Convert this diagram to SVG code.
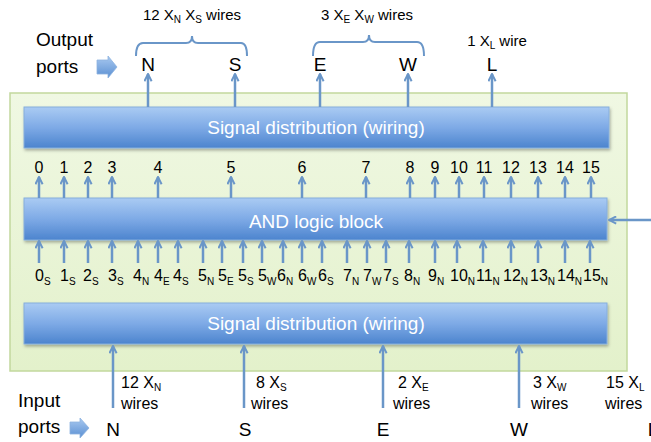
<svg xmlns="http://www.w3.org/2000/svg" width="651" height="442" viewBox="0 0 651 442">
<defs>
<linearGradient id="blueGrad" x1="0" y1="0" x2="0" y2="1">
<stop offset="0" stop-color="#AACBF3"/>
<stop offset="0.5" stop-color="#7EAAE6"/>
<stop offset="1" stop-color="#4C84CE"/>
</linearGradient>
<linearGradient id="greenGrad" x1="0" y1="0" x2="0" y2="1">
<stop offset="0" stop-color="#F0F8E3"/>
<stop offset="1" stop-color="#E3F1CB"/>
</linearGradient>
<linearGradient id="fatGrad" x1="0" y1="0" x2="0" y2="1">
<stop offset="0" stop-color="#A9C9F0"/>
<stop offset="1" stop-color="#5A8FD2"/>
</linearGradient>
<filter id="shadow" x="-5%" y="-20%" width="110%" height="150%">
<feDropShadow dx="1" dy="2" stdDeviation="1.5" flood-color="#000" flood-opacity="0.3"/>
</filter>
<marker id="ah" viewBox="0 0 10 10" refX="9" refY="5" markerWidth="9" markerHeight="9" markerUnits="userSpaceOnUse" orient="auto">
<path d="M1,1 L9,5 L1,9" fill="none" stroke="#6A96C8" stroke-width="2.2" stroke-linejoin="miter"/>
</marker>
</defs>
<style>
text{font-family:"Liberation Sans",Arial,sans-serif;fill:#000}
.blk{fill:url(#blueGrad);stroke:#86AEDC;stroke-width:1;filter:url(#shadow)}
.blkt{fill:#fff;text-anchor:middle}
.num{font-size:16px}
.lbl{font-size:16px}
.port{font-size:19px;text-anchor:middle}
.side{font-size:19px}
.sub{font-size:10px}
.w{stroke:#6A96C8;stroke-width:2.5;fill:none;marker-end:url(#ah)}
.brace{stroke:#6A96C8;stroke-width:2;fill:none}
.fat{fill:url(#fatGrad);stroke:#8DB2DF;stroke-width:0.8}
</style>

<g id="panel">
<rect x="10" y="93" width="617" height="278" fill="url(#greenGrad)" stroke="#C2D89D" stroke-width="1.5"/>
</g>

<g id="signal-top">
<rect class="blk" x="24" y="107" width="585" height="41"/>
<text class="blkt" x="316" y="134" font-size="19">Signal distribution (wiring)</text>
</g>

<g id="and-block">
<rect class="blk" x="24" y="198" width="583" height="42"/>
<text class="blkt" x="316" y="228" font-size="19">AND logic block</text>
</g>

<g id="signal-bottom">
<rect class="blk" x="24" y="303" width="583" height="41"/>
<text class="blkt" x="316" y="330" font-size="19">Signal distribution (wiring)</text>
</g>

<g id="connectors">
<line class="w" x1="148" y1="107" x2="148" y2="74"/>
<line class="w" x1="235" y1="107" x2="235" y2="74"/>
<line class="w" x1="320" y1="107" x2="320" y2="74"/>
<line class="w" x1="408" y1="107" x2="408" y2="74"/>
<line class="w" x1="492" y1="107" x2="492" y2="74"/>
<line class="w" x1="39" y1="198" x2="39" y2="177"/>
<line class="w" x1="64" y1="198" x2="64" y2="177"/>
<line class="w" x1="88" y1="198" x2="88" y2="177"/>
<line class="w" x1="112" y1="198" x2="112" y2="177"/>
<line class="w" x1="158" y1="198" x2="158" y2="177"/>
<line class="w" x1="231" y1="198" x2="231" y2="177"/>
<line class="w" x1="302" y1="198" x2="302" y2="177"/>
<line class="w" x1="366" y1="198" x2="366" y2="177"/>
<line class="w" x1="410" y1="198" x2="410" y2="177"/>
<line class="w" x1="435" y1="198" x2="435" y2="177"/>
<line class="w" x1="459" y1="198" x2="459" y2="177"/>
<line class="w" x1="484" y1="198" x2="484" y2="177"/>
<line class="w" x1="511" y1="198" x2="511" y2="177"/>
<line class="w" x1="538" y1="198" x2="538" y2="177"/>
<line class="w" x1="565" y1="198" x2="565" y2="177"/>
<line class="w" x1="591" y1="198" x2="591" y2="177"/>
<line class="w" x1="39" y1="263" x2="39" y2="241"/>
<line class="w" x1="64" y1="263" x2="64" y2="241"/>
<line class="w" x1="88" y1="263" x2="88" y2="241"/>
<line class="w" x1="112" y1="263" x2="112" y2="241"/>
<line class="w" x1="138" y1="263" x2="138" y2="241"/>
<line class="w" x1="158" y1="263" x2="158" y2="241"/>
<line class="w" x1="178" y1="263" x2="178" y2="241"/>
<line class="w" x1="203" y1="263" x2="203" y2="241"/>
<line class="w" x1="222" y1="263" x2="222" y2="241"/>
<line class="w" x1="243" y1="263" x2="243" y2="241"/>
<line class="w" x1="262" y1="263" x2="262" y2="241"/>
<line class="w" x1="283" y1="263" x2="283" y2="241"/>
<line class="w" x1="302" y1="263" x2="302" y2="241"/>
<line class="w" x1="322" y1="263" x2="322" y2="241"/>
<line class="w" x1="347" y1="263" x2="347" y2="241"/>
<line class="w" x1="367" y1="263" x2="367" y2="241"/>
<line class="w" x1="386" y1="263" x2="386" y2="241"/>
<line class="w" x1="409" y1="263" x2="409" y2="241"/>
<line class="w" x1="435" y1="263" x2="435" y2="241"/>
<line class="w" x1="457" y1="263" x2="457" y2="241"/>
<line class="w" x1="483" y1="263" x2="483" y2="241"/>
<line class="w" x1="511" y1="263" x2="511" y2="241"/>
<line class="w" x1="538" y1="263" x2="538" y2="241"/>
<line class="w" x1="565" y1="263" x2="565" y2="241"/>
<line class="w" x1="590" y1="263" x2="590" y2="241"/>
<line class="w" x1="651" y1="220" x2="609" y2="220"/>
<line class="w" x1="113" y1="408" x2="113" y2="346"/>
<line class="w" x1="244" y1="408" x2="244" y2="346"/>
<line class="w" x1="383" y1="408" x2="383" y2="346"/>
<line class="w" x1="519" y1="408" x2="519" y2="346"/>
<path class="brace" d="M136,56 Q136,43 143,43 L186,43 Q192,43 192,36 Q192,43 198,43 L241,43 Q247,43 247,56"/>
<path class="brace" d="M313,56 Q313,42 320,42 L363,42 Q369,42 369,35 Q369,42 375,42 L417,42 Q424,42 424,56"/>
</g>

<g id="output-ports">
<text class="side" x="36" y="46">Output</text>
<text class="side" x="36" y="73">ports</text>
<path class="fat" d="M97,60 L108,60 L108,56 L117,67 L108,78 L108,74 L97,74 Z"/>
<text class="port" x="148" y="71">N</text>
<text class="port" x="235" y="71">S</text>
<text class="port" x="320" y="71">E</text>
<text class="port" x="408" y="71">W</text>
<text class="port" x="492" y="71">L</text>
<text x="192" y="20" font-size="15" text-anchor="middle">12 X<tspan class="sub" dy="3">N</tspan><tspan dy="-3"> X</tspan><tspan class="sub" dy="3">S</tspan><tspan dy="-3"> wires</tspan></text>
<text x="367" y="20" font-size="15" text-anchor="middle">3 X<tspan class="sub" dy="3">E</tspan><tspan dy="-3"> X</tspan><tspan class="sub" dy="3">W</tspan><tspan dy="-3"> wires</tspan></text>
<text x="497" y="46" font-size="15" text-anchor="middle">1 X<tspan class="sub" dy="3">L</tspan><tspan dy="-3"> wire</tspan></text>
</g>

<g id="and-outputs">
<text class="num" x="39" y="173" text-anchor="middle">0</text>
<text class="num" x="64" y="173" text-anchor="middle">1</text>
<text class="num" x="88" y="173" text-anchor="middle">2</text>
<text class="num" x="112" y="173" text-anchor="middle">3</text>
<text class="num" x="158" y="173" text-anchor="middle">4</text>
<text class="num" x="231" y="173" text-anchor="middle">5</text>
<text class="num" x="302" y="173" text-anchor="middle">6</text>
<text class="num" x="366" y="173" text-anchor="middle">7</text>
<text class="num" x="410" y="173" text-anchor="middle">8</text>
<text class="num" x="435" y="173" text-anchor="middle">9</text>
<text class="num" x="459" y="173" text-anchor="middle">10</text>
<text class="num" x="484" y="173" text-anchor="middle">11</text>
<text class="num" x="511" y="173" text-anchor="middle">12</text>
<text class="num" x="538" y="173" text-anchor="middle">13</text>
<text class="num" x="565" y="173" text-anchor="middle">14</text>
<text class="num" x="591" y="173" text-anchor="middle">15</text>
</g>

<g id="and-inputs">
<text class="num" x="35" y="281">0<tspan class="sub" dy="4">S</tspan></text>
<text class="num" x="60" y="281">1<tspan class="sub" dy="4">S</tspan></text>
<text class="num" x="83" y="281">2<tspan class="sub" dy="4">S</tspan></text>
<text class="num" x="108" y="281">3<tspan class="sub" dy="4">S</tspan></text>
<text class="num" x="133" y="281">4<tspan class="sub" dy="4">N</tspan></text>
<text class="num" x="154" y="281">4<tspan class="sub" dy="4">E</tspan></text>
<text class="num" x="173" y="281">4<tspan class="sub" dy="4">S</tspan></text>
<text class="num" x="198" y="281">5<tspan class="sub" dy="4">N</tspan></text>
<text class="num" x="218" y="281">5<tspan class="sub" dy="4">E</tspan></text>
<text class="num" x="238" y="281">5<tspan class="sub" dy="4">S</tspan></text>
<text class="num" x="258" y="281">5<tspan class="sub" dy="4">W</tspan></text>
<text class="num" x="277" y="281">6<tspan class="sub" dy="4">N</tspan></text>
<text class="num" x="298" y="281">6<tspan class="sub" dy="4">W</tspan></text>
<text class="num" x="318" y="281">6<tspan class="sub" dy="4">S</tspan></text>
<text class="num" x="343" y="281">7<tspan class="sub" dy="4">N</tspan></text>
<text class="num" x="363" y="281">7<tspan class="sub" dy="4">W</tspan></text>
<text class="num" x="383" y="281">7<tspan class="sub" dy="4">S</tspan></text>
<text class="num" x="404" y="281">8<tspan class="sub" dy="4">N</tspan></text>
<text class="num" x="428" y="281">9<tspan class="sub" dy="4">N</tspan></text>
<text class="num" x="450" y="281">10<tspan class="sub" dy="4">N</tspan></text>
<text class="num" x="476" y="281">11<tspan class="sub" dy="4">N</tspan></text>
<text class="num" x="503" y="281">12<tspan class="sub" dy="4">N</tspan></text>
<text class="num" x="530" y="281">13<tspan class="sub" dy="4">N</tspan></text>
<text class="num" x="557" y="281">14<tspan class="sub" dy="4">N</tspan></text>
<text class="num" x="583" y="281">15<tspan class="sub" dy="4">N</tspan></text>
</g>

<g id="input-ports">
<text class="side" x="18" y="407">Input</text>
<text class="side" x="18" y="433">ports</text>
<path class="fat" d="M70,422 L80,422 L80,418 L89,428 L80,438 L80,434 L70,434 Z"/>
<text class="port" x="113" y="436">N</text>
<text class="port" x="245" y="436">S</text>
<text class="port" x="383" y="436">E</text>
<text class="port" x="519" y="436">W</text>
<text class="port" x="653" y="436">L</text>
<text class="lbl" x="121" y="388">12 X<tspan class="sub" dy="3">N</tspan></text>
<text class="lbl" x="121" y="409">wires</text>
<text class="lbl" x="256" y="388">8 X<tspan class="sub" dy="3">S</tspan></text>
<text class="lbl" x="251" y="409">wires</text>
<text class="lbl" x="398" y="388">2 X<tspan class="sub" dy="3">E</tspan></text>
<text class="lbl" x="393" y="409">wires</text>
<text class="lbl" x="533" y="388">3 X<tspan class="sub" dy="3">W</tspan></text>
<text class="lbl" x="531" y="409">wires</text>
<text class="lbl" x="606" y="388">15 X<tspan class="sub" dy="3">L</tspan></text>
<text class="lbl" x="605" y="409">wires</text>
</g>
</svg>
